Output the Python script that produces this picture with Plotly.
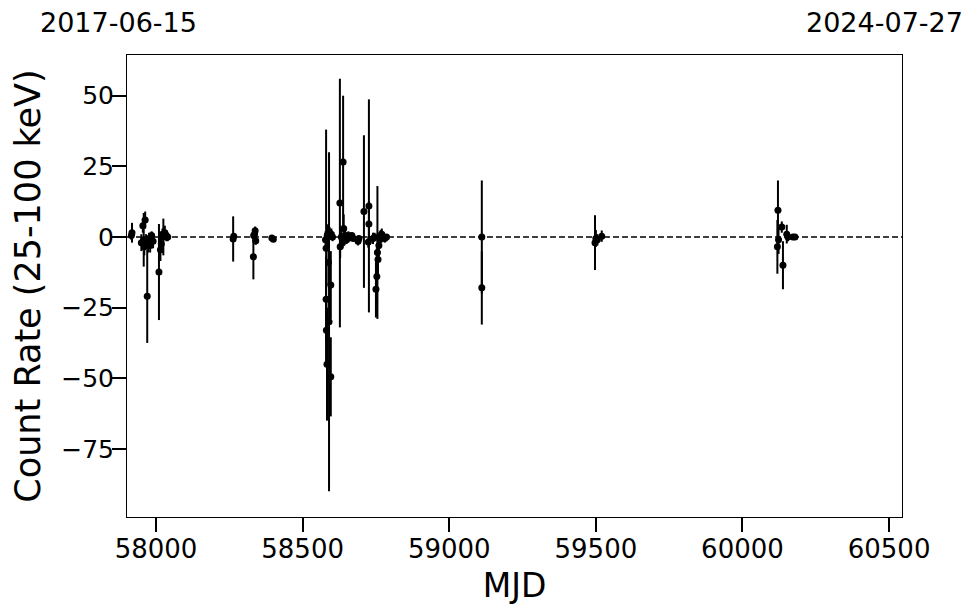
import plotly.graph_objects as go

# MJD, count rate (25-100 keV), 1-sigma error
mjd = [57916, 57918,
       57950, 57955, 57958, 57960, 57963, 57966, 57970, 57973, 57976, 57980, 57985, 57990,
       58010, 58015, 58018, 58022, 58025, 58030, 58035, 58040,
       58263, 58265,
       58332, 58333, 58336, 58338, 58340, 58395, 58400,
       58578, 58580, 58580, 58581, 58583, 58584, 58588, 58590, 58592, 58596, 58596, 58598, 58602,
       58627, 58628, 58632, 58636, 58638, 58640, 58645, 58650, 58656, 58662, 58668, 58673, 58689, 58692,
       58709, 58724, 58726, 58726, 58740, 58745, 58750, 58753, 58755, 58757, 58760, 58763, 58766,
       58770, 58775, 58780, 58786,
       59111, 59111,
       59497, 59500, 59505, 59520,
       60119, 60121, 60123, 60134, 60138, 60151, 60155, 60172, 60179]
rate = [0.5, 1.5,
        -2, 4.0, -1, -3.5, 6, -1, -21, -2.5, -0.5, -3, 0.5, -1.5,
        -12.4, -4.5, -2.5, 1, 0, 1.5, 0.5, 0,
        -0.7, 0.3,
        -7, 0.5, 1, 2.2, -1.3, -0.4, -0.8,
        -1, -4, -22, -33, -45, 0.5, -9, -30, 1.5, -17, -49.5, 1, 0,
        12, -3.5, 0, -2, 26.5, 3, 0.5, -1, 0.5, 0, 0.5, -0.5, -1.5, -0.5,
        9, -1.8, 11, 4.6, -0.5, 0, -18.5, -14, -5.5, -8, -3, -1, 0.5,
        1, 0, -0.5, 0,
        0, -18,
        -2, -0.5, -1, 0.3,
        -3.5, 9.5, -1, 3.5, -10, 1, 0, 0, 0]
err = [1.5, 3.5,
       3, 2.5, 9.5, 3, 3, 2, 16.5, 3, 2, 2.5, 1.5, 2.5,
       17, 4, 3, 2, 6.5, 2.5, 2, 1.5,
       8, 1,
       8, 2, 1.5, 1.5, 1.5, 1, 0.8,
       3, 42, 15, 12, 20, 4, 8, 60, 2, 12, 14, 2, 1.5,
       44, 4, 3, 2, 23.5, 5, 2, 1.5, 1.5, 1.5, 1, 1, 1.5, 1,
       27, 2, 37.7, 8, 2, 1.5, 10, 10, 23.5, 6, 4, 3, 2,
       2, 1.5, 1.5, 1,
       20, 13,
       9.7, 3, 2, 2,
       9.5, 10.5, 5, 2, 8.5, 3.3, 1.5, 1, 1]

x_range = [57901, 60544]
y_range = [-99.1, 64.4]
x_ticks = [58000, 58500, 59000, 59500, 60000, 60500]
y_ticks = [-75, -50, -25, 0, 25, 50]
start_label = "2017-06-15"
end_label = "2024-07-27"

fig = go.Figure()
fig.add_trace(go.Scatter(
    x=mjd, y=rate, mode="markers",
    marker=dict(color="black", size=7),
    error_y=dict(type="data", array=err, visible=True, color="black", thickness=2, width=0),
    showlegend=False,
))

fig.add_shape(type="line", xref="paper", yref="y", x0=0, x1=1, y0=0, y1=0,
              line=dict(color="black", width=1.5, dash="6px,3px"), layer="below")

font = "DejaVu Sans"
fig.update_layout(
    width=980, height=613,
    margin=dict(l=119, r=86, t=47, b=104),
    paper_bgcolor="white", plot_bgcolor="white",
    font=dict(family=font, color="black", size=23),
    xaxis=dict(range=x_range, showgrid=False, zeroline=False,
               showline=True, mirror=True, linecolor="black", linewidth=1,
               ticks="outside", ticklen=14, tickwidth=2, tickcolor="black",
               tickvals=x_ticks, tickformat="d", ticklabelstandoff=-5,
               tickfont=dict(size=26, family=font),
               title=dict(text="MJD", font=dict(size=33, family=font), standoff=10)),
    yaxis=dict(range=y_range, showgrid=False, zeroline=False,
               showline=True, mirror=True, linecolor="black", linewidth=1,
               ticks="outside", ticklen=14, tickwidth=2, tickcolor="black",
               tickvals=y_ticks, ticklabelstandoff=-7,
               tickfont=dict(size=25, family=font),
               title=dict(text="Count Rate (25-100 keV)", font=dict(size=35, family=font), standoff=14)),
    annotations=[
        dict(text=start_label, xref="paper", yref="paper", x=-0.0116, y=1.0714,
             xanchor="center", yanchor="middle", showarrow=False, font=dict(size=27, family=font)),
        dict(text=end_label, xref="paper", yref="paper", x=0.978, y=1.0714,
             xanchor="center", yanchor="middle", showarrow=False, font=dict(size=27, family=font)),
    ],
)

fig.write_html("out.html")
